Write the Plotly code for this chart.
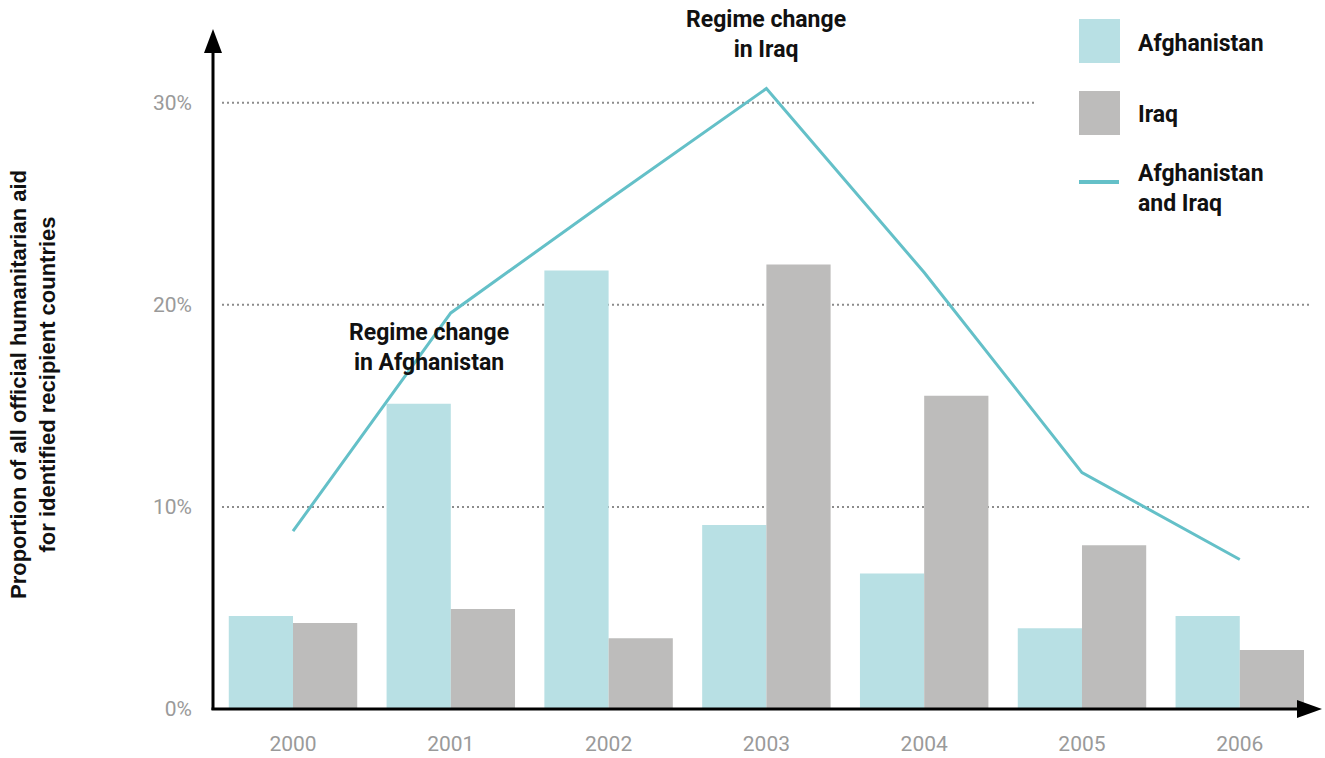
import plotly.graph_objects as go

# Aid data (percent of all official humanitarian aid to identified recipients)
years = ["2000", "2001", "2002", "2003", "2004", "2005", "2006"]
afghanistan = [4.6, 15.1, 21.7, 9.1, 6.7, 4.0, 4.6]
iraq = [4.26, 4.95, 3.5, 22.0, 15.5, 8.1, 2.92]
combined = [8.8, 19.6, 25.2, 30.7, 21.6, 11.7, 7.4]
y_ticks = [0, 10, 20, 30]
y_tick_labels = ["0%", "10%", "20%", "30%"]

AFG_COLOR = "#b8e0e4"
IRQ_COLOR = "#bdbcbb"
LINE_COLOR = "#64c0c8"
GRID_COLOR = "#8c8c8c"
TICK_COLOR = "#9a9a9a"
FONT = "Roboto"

W, H = 1325, 758
L, R, T, B = 213, 15, 30, 49
PW, PH = W - L - R, H - T - B


def fx(px):
    return (px - L) / PW


def fy(py):
    return (H - B - py) / PH


fig = go.Figure()
fig.add_trace(go.Bar(x=years, y=afghanistan, name="Afghanistan",
                     marker=dict(color=AFG_COLOR, line=dict(width=0))))
fig.add_trace(go.Bar(x=years, y=iraq, name="Iraq",
                     marker=dict(color=IRQ_COLOR, line=dict(width=0))))
fig.add_trace(go.Scatter(x=years, y=combined, name="Afghanistan and Iraq",
                         mode="lines", line=dict(color=LINE_COLOR, width=3)))

shapes = []
# dotted gridlines
for v in y_ticks[1:]:
    shapes.append(dict(type="line", xref="paper", yref="y",
                       x0=fx(222), x1=fx(1035) if v == 30 else 1.0, y0=v, y1=v,
                       line=dict(color=GRID_COLOR, width=2, dash="2px,3px"),
                       layer="below"))

# axes with arrowheads
shapes.append(dict(type="line", xref="paper", yref="paper",
                   x0=0, x1=0, y0=fy(710), y1=fy(50),
                   line=dict(color="black", width=3)))
shapes.append(dict(type="path", xref="paper", yref="paper",
                   path=f"M {fx(204)},{fy(53)} L {fx(213)},{fy(29)} L {fx(222)},{fy(53)} Z",
                   fillcolor="black", line=dict(width=0)))
shapes.append(dict(type="line", xref="paper", yref="paper",
                   x0=fx(211.5), x1=fx(1300), y0=0, y1=0,
                   line=dict(color="black", width=3)))
shapes.append(dict(type="path", xref="paper", yref="paper",
                   path=f"M {fx(1297)},{fy(700)} L {fx(1322)},{fy(709)} L {fx(1297)},{fy(718)} Z",
                   fillcolor="black", line=dict(width=0)))

# legend swatches
shapes.append(dict(type="rect", xref="paper", yref="paper",
                   x0=fx(1079), x1=fx(1120), y0=fy(63), y1=fy(19),
                   fillcolor=AFG_COLOR, line=dict(width=0)))
shapes.append(dict(type="rect", xref="paper", yref="paper",
                   x0=fx(1079), x1=fx(1120), y0=fy(135), y1=fy(91),
                   fillcolor=IRQ_COLOR, line=dict(width=0)))
shapes.append(dict(type="line", xref="paper", yref="paper",
                   x0=fx(1079), x1=fx(1119), y0=fy(182), y1=fy(182),
                   line=dict(color=LINE_COLOR, width=4)))

bold = dict(family=FONT, size=23, color="#111111")
annotations = [
    dict(text="<b>Afghanistan</b>", x=fx(1136), y=fy(43), xanchor="left", yanchor="middle",
         align="left", font=bold),
    dict(text="<b>Iraq</b>", x=fx(1136), y=fy(114), xanchor="left", yanchor="middle",
         align="left", font=bold),
    dict(text="<b>Afghanistan<br>and Iraq</b>", x=fx(1136), y=fy(189), xanchor="left",
         yanchor="middle", align="left", font=bold),
    dict(text="<b>Regime change<br>in Iraq</b>", x=fx(766), y=fy(35), xanchor="center",
         yanchor="middle", align="center", font=bold),
    dict(text="<b>Regime change<br>in Afghanistan</b>", x=fx(429), y=fy(347), xanchor="center",
         yanchor="middle", align="center", font=bold),
    dict(text="<b>Proportion of all official humanitarian aid<br>for identified recipient countries</b>",
         x=fx(33), y=fy(385), xanchor="center", yanchor="middle", textangle=-90,
         align="center", font=dict(family="Liberation Sans", size=22, color="#111111")),
]
for a in annotations:
    a.update(xref="paper", yref="paper", showarrow=False)

fig.update_layout(
    width=W, height=H,
    margin=dict(l=L, r=R, t=T, b=B, pad=0, autoexpand=False),
    paper_bgcolor="white", plot_bgcolor="white",
    barmode="group", bargap=0.186, bargroupgap=0,
    showlegend=False,
    shapes=shapes, annotations=annotations,
    font=dict(family=FONT),
    xaxis=dict(range=[-0.507, 6.445], showgrid=False, zeroline=False, showline=False,
               ticks="", automargin=False,
               tickfont=dict(family=FONT, size=21, color=TICK_COLOR),
               ticklabelstandoff=20),
    yaxis=dict(range=[0, 33.6], tickvals=y_ticks, ticktext=y_tick_labels, showgrid=False,
               zeroline=False, showline=False, ticks="", automargin=False,
               tickfont=dict(family=FONT, size=21, color=TICK_COLOR),
               ticklabelstandoff=20),
)

fig.write_html("out.html")
